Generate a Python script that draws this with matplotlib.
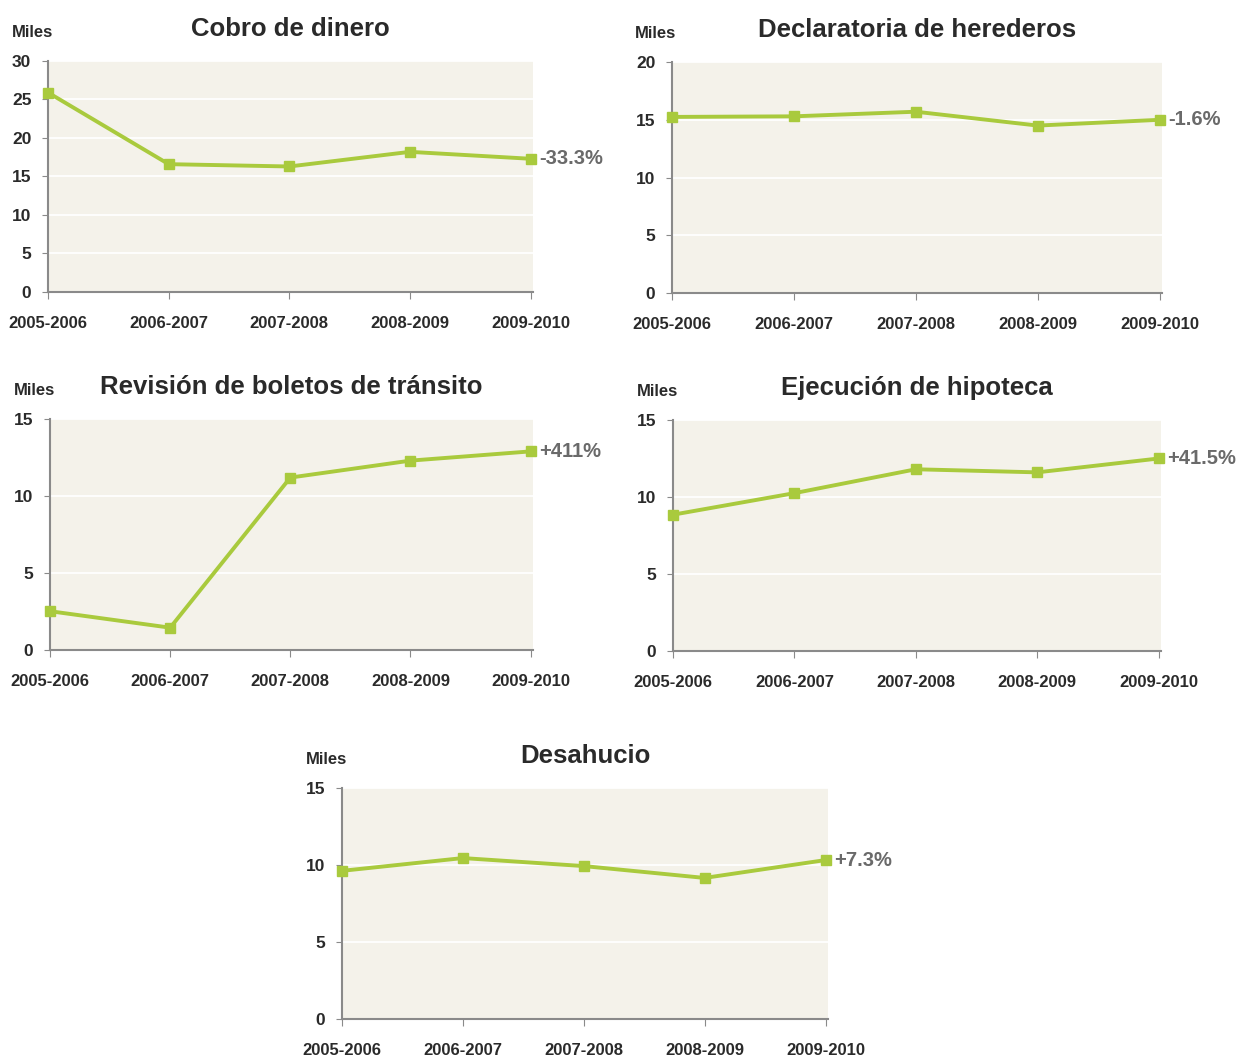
import matplotlib
matplotlib.use("Agg")
import matplotlib.pyplot as plt
import numpy as np

plt.rcParams['font.family'] = ['Liberation Sans Narrow', 'Liberation Sans', 'DejaVu Sans']

periods = ['2005-2006', '2006-2007', '2007-2008', '2008-2009', '2009-2010']

cobro = [25.9, 16.6, 16.3, 18.2, 17.3]
declaratoria = [15.25, 15.3, 15.7, 14.5, 15.0]
revision = [2.52, 1.45, 11.2, 12.3, 12.9]
ejecucion = [8.85, 10.25, 11.8, 11.6, 12.5]
desahucio = [9.62, 10.45, 9.93, 9.16, 10.32]

titles = ['Cobro de dinero', 'Declaratoria de herederos', 'Revisión de boletos de tránsito',
          'Ejecución de hipoteca', 'Desahucio']
changes = ['-33.3%', '-1.6%', '+411%', '+41.5%', '+7.3%']
ymaxes = [30, 20, 15, 15, 15]

line_color = '#a9ca3d'
bg_color = '#f4f2ea'
text_color = '#2a2a2a'

# [left, bottom, width, height] in figure fractions
boxes = [
    [0.0385, 0.7243, 0.3886, 0.2181],
    [0.5385, 0.7233, 0.3926, 0.2181],
    [0.0401, 0.3862, 0.3870, 0.2181],
    [0.5393, 0.3853, 0.3910, 0.2181],
    [0.2740, 0.0378, 0.3894, 0.2181],
]

fig = plt.figure(figsize=(12.48, 10.59), dpi=100)

series = [cobro, declaratoria, revision, ejecucion, desahucio]
x = np.arange(len(periods))

for vals, title, chg, ymax, box in zip(series, titles, changes, ymaxes, boxes):
    ax = fig.add_axes(box)
    ax.set_facecolor(bg_color)
    ax.plot(x, vals, color=line_color, lw=2.8, marker='s', ms=7, mec=line_color,
            clip_on=False, zorder=3)
    ax.set_xlim(0, 4.02)
    ax.set_ylim(0, ymax)
    ax.set_yticks(np.arange(0, ymax + 1, 5))
    ax.set_xticks(x)
    ax.set_xticklabels(periods)
    for t in ax.get_yticks()[1:]:
        ax.axhline(t, color='white', lw=1.3, zorder=1)
    for s in ['top', 'right']:
        ax.spines[s].set_visible(False)
    for s in ['left', 'bottom']:
        ax.spines[s].set_color('#8a8a8a')
        ax.spines[s].set_linewidth(1.5)
    ax.tick_params(axis='y', length=4, color='#8a8a8a', labelsize=12.5, pad=8,
                   labelcolor=text_color)
    ax.tick_params(axis='x', length=5, color='#8a8a8a', labelsize=12, pad=12,
                   labelcolor=text_color)
    for lab in ax.get_xticklabels() + ax.get_yticklabels():
        lab.set_fontweight('bold')
    ax.set_title(title, fontsize=18.5, fontweight='bold', color=text_color, pad=18)
    ax.text(-0.075, 1.09, 'Miles', transform=ax.transAxes, fontsize=12,
            fontweight='bold', color=text_color, ha='left', va='bottom')
    ax.annotate(chg, (x[-1], vals[-1]), xytext=(6, 0), textcoords='offset points',
                ha='left', va='center', fontsize=14.5, fontweight='bold', color='#6a6a6a')

fig.savefig('out.png', dpi=100)
